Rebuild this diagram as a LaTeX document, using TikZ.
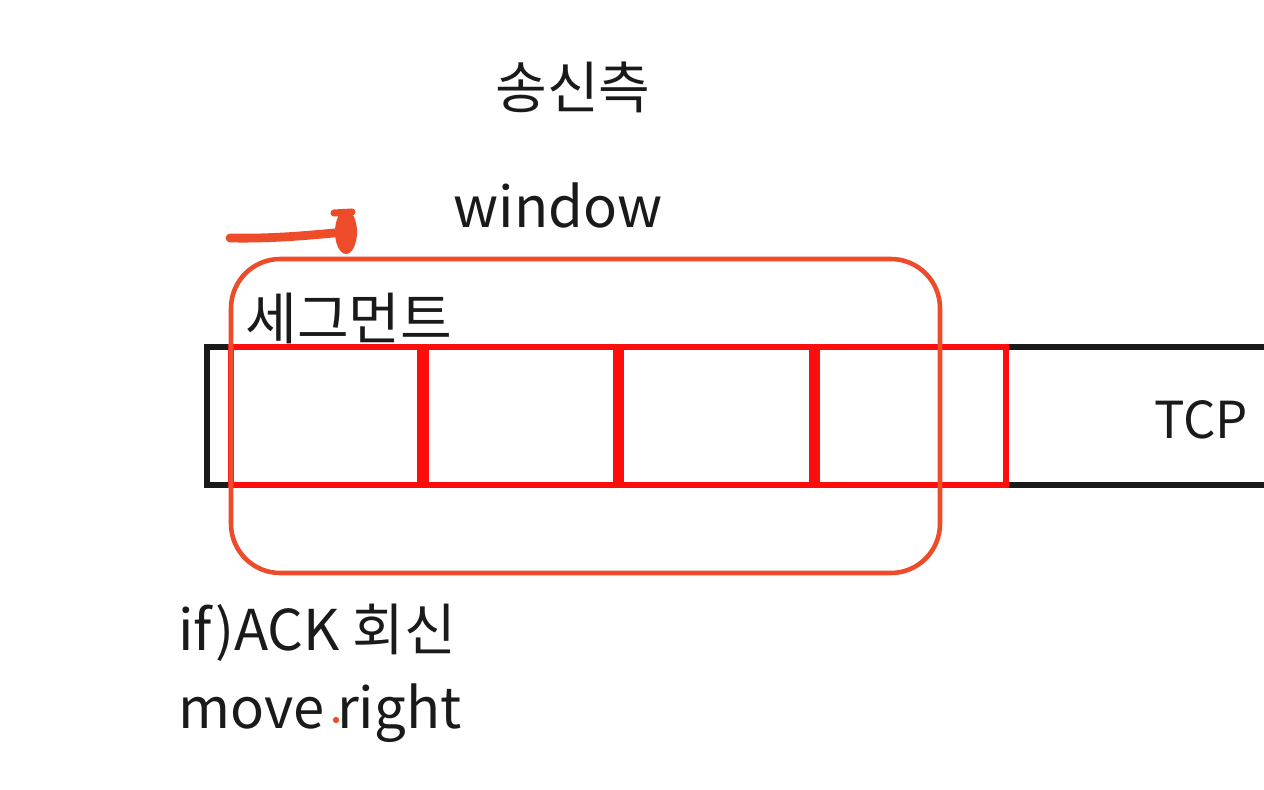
\documentclass[tikz,border=0pt]{standalone}
\usepackage{fontspec}
\setmainfont{Noto Sans CJK KR}
\definecolor{pen}{HTML}{EE4B2B}
\definecolor{segred}{HTML}{FF0D0D}
\definecolor{ink}{HTML}{1A1A1A}
\begin{document}
\begin{tikzpicture}[x=0.02cm,y=-0.02cm,
  txt/.style={font=\fontsize{32}{38}\selectfont,text=ink,inner sep=0pt},
  segbox/.style={segred,line width=3.2pt}]
\useasboundingbox (0,0) rectangle (1264,790);

\node[txt] (side) at (573,87) {송신측};
\node[txt] (win) at (558,205) {window};
\node[txt,anchor=west] (seg) at (245,318) {세그먼트};
\node[txt,font=\fontsize{29}{34}\selectfont] (tcp) at (1201,420) {TCP};
\node[txt,anchor=west] (ack) at (178,633) {if)ACK 회신};
\node[txt,anchor=west] (mv) at (178,713) {move right};

% tcp buffer, open to the right
\draw[ink,line width=3.2pt] (1264,347) -- (207,347) -- (207,485) -- (1264,485);
\foreach \l/\r in {231/420,426/616,621/812,817/1006} { \draw[segbox] (\l,347) rectangle (\r,485); }

% window
\draw[pen,line width=2.6pt,rounded corners=28pt] (231,259) rectangle (940,573);
\coordinate (tail) at (230,238);
\coordinate (head) at (346,232);
\draw[pen,line width=5pt,line cap=round] (tail) .. controls (280,239) and (320,234) .. (head);
\fill[pen] (head) ellipse [x radius=0.22cm, y radius=0.44cm];
\draw[pen,line width=4pt,line cap=round] (334,213) -- (352,212);
\fill[pen] (336,720) circle (1.8pt);

\end{tikzpicture}
\end{document}
